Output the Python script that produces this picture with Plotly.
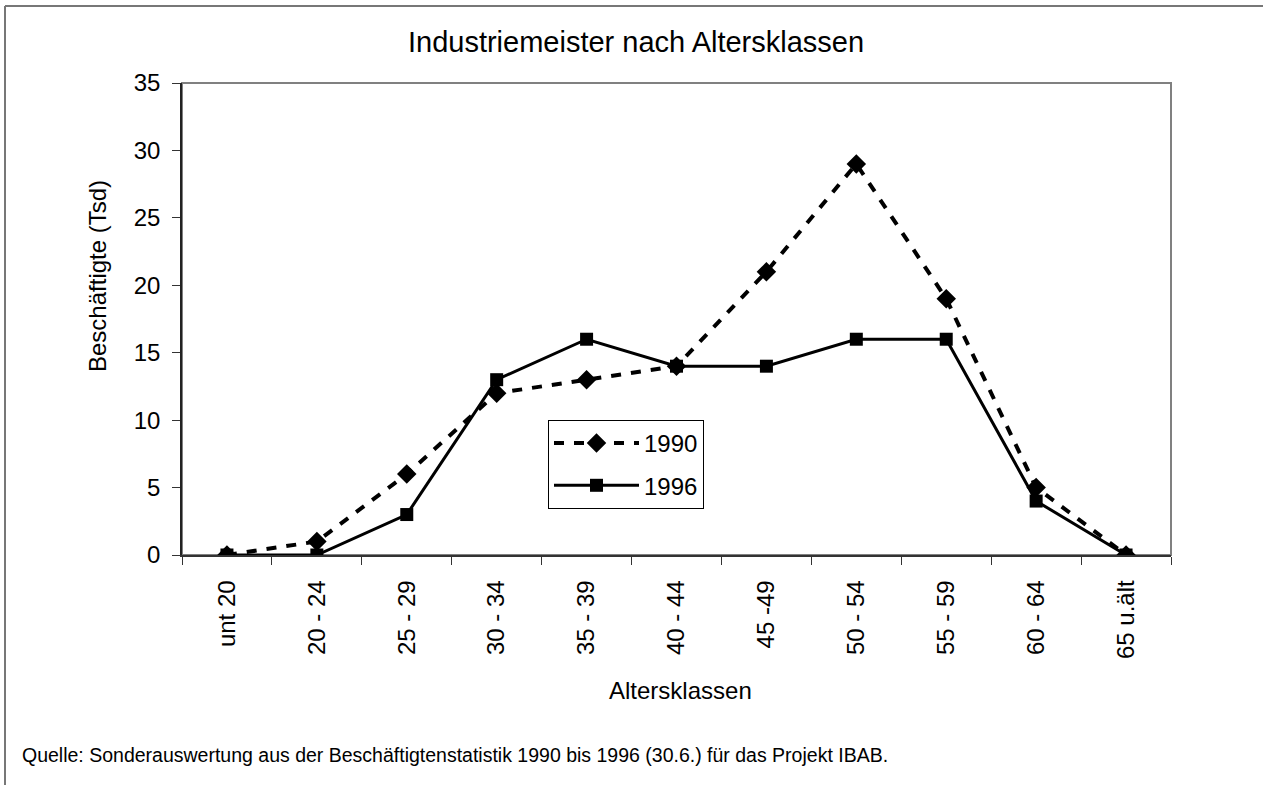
import plotly.graph_objects as go

categories = ["unt 20", "20 - 24", "25 - 29", "30 - 34", "35 - 39", "40 - 44",
              "45 -49", "50 - 54", "55 - 59", "60 - 64", "65 u.ält"]
values_1990 = [0, 1, 6, 12, 13, 14, 21, 29, 19, 5, 0]
values_1996 = [0, 0, 3, 13, 16, 14, 14, 16, 16, 4, 0]

FONT = "Liberation Sans, Arial, sans-serif"
PW, PH = 989, 472  # plot area size in px
L, T = 182, 83

def px(x):
    return (x - L) / PW

def py(y):
    return (T + PH - y) / PH

fig = go.Figure()
fig.add_trace(go.Scatter(
    x=categories, y=values_1990, name="1990", mode="lines+markers", legendgroup="a",
    line=dict(color="black", width=4, dash="10px,10px"),
    marker=dict(symbol="diamond", size=15, color="black"),
))
fig.add_trace(go.Scatter(
    x=categories, y=values_1996, name="1996", mode="lines+markers", legendgroup="b",
    line=dict(color="black", width=3),
    marker=dict(symbol="square", size=13, color="black"),
))

fig.update_layout(
    width=1263, height=785,
    margin=dict(l=L, r=1263 - L - PW, t=T, b=785 - T - PH),
    paper_bgcolor="white", plot_bgcolor="white",
    font=dict(family=FONT, size=24, color="black"),
    title=dict(text="Industriemeister nach Altersklassen", x=0.5036, xanchor="center",
               y=1 - 42 / 785, yanchor="middle", font=dict(size=29, family=FONT, color="black")),
    showlegend=True,
    legend=dict(x=px(548), y=py(420), xanchor="left", yanchor="top",
                bordercolor="black", borderwidth=1, bgcolor="white",
                font=dict(size=24, family=FONT), itemwidth=85,
                tracegroupgap=8),
)

fig.update_xaxes(
    type="category", range=[-0.5, 10.5], tickangle=-90,
    tickson="boundaries", ticks="outside", ticklen=8, tickcolor="#333",
    showline=True, linecolor="#333", linewidth=1.5, showgrid=False,
    tickfont=dict(size=24, family=FONT), ticklabelstandoff=14,
)
fig.update_yaxes(
    range=[0, 35], dtick=5, ticks="outside", ticklen=8, tickcolor="#333",
    showline=True, linecolor="#222", linewidth=1.5, showgrid=False, zeroline=False,
    tickfont=dict(size=24, family=FONT), ticklabelstandoff=7,
)

# axis titles
fig.add_annotation(text="Altersklassen", xref="paper", yref="paper",
                   x=px(680), y=py(690), xanchor="center", yanchor="middle",
                   showarrow=False, font=dict(size=24, family=FONT, color="black"))
fig.add_annotation(text="Beschäftigte (Tsd)", xref="paper", yref="paper",
                   x=px(97), y=py(276), xanchor="center", yanchor="middle", textangle=-90,
                   showarrow=False, font=dict(size=24, family=FONT, color="black"))

# plot-area frame (gray top/right)
fig.add_shape(type="rect", xref="paper", yref="paper", x0=0, x1=1, y0=0, y1=1,
              line=dict(color="#808080", width=2), layer="below")
# outer border (top and left)
fig.add_shape(type="line", xref="paper", yref="paper",
              x0=px(5), x1=px(1263), y0=py(6), y1=py(6),
              line=dict(color="#777", width=2))
fig.add_shape(type="line", xref="paper", yref="paper",
              x0=px(5), x1=px(5), y0=py(6), y1=py(785),
              line=dict(color="#777", width=2))

fig.add_annotation(
    text="Quelle: Sonderauswertung aus der Beschäftigtenstatistik 1990 bis 1996 (30.6.) für das Projekt IBAB.",
    xref="paper", yref="paper", x=px(20), y=py(755),
    xanchor="left", yanchor="middle", showarrow=False,
    font=dict(size=19.5, family=FONT, color="black"),
)

fig.write_html("out.html", config={"displayModeBar": False},
               post_script="document.body.style.margin='0';document.body.style.overflow='hidden';")
